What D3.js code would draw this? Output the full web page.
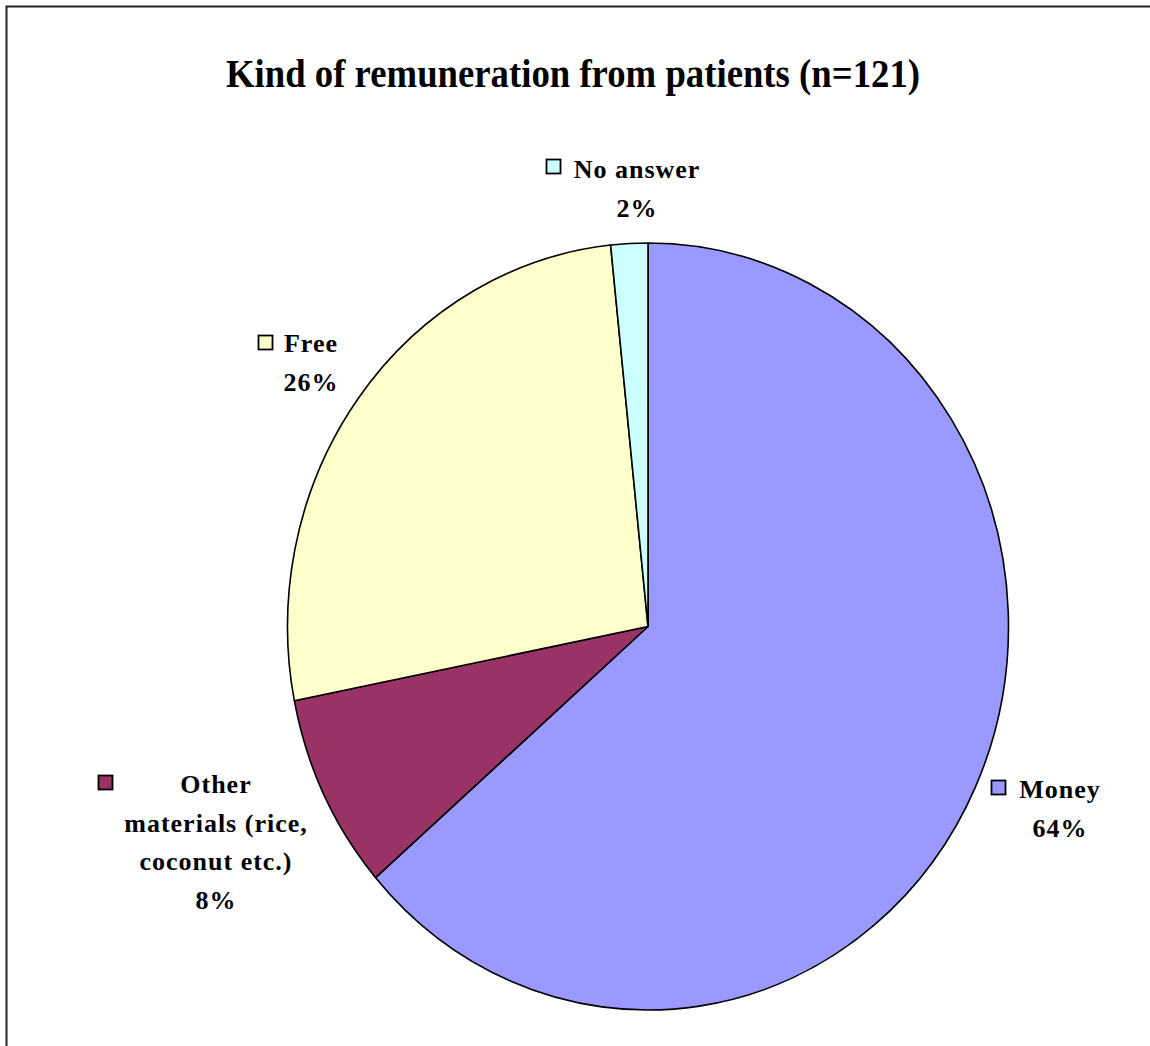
<!DOCTYPE html>
<html>
<head>
<meta charset="utf-8">
<script src="https://cdn.jsdelivr.net/npm/d3@7"></script>
<style>
  html, body { margin: 0; padding: 0; background: #fff; }
  svg { display: block; }
</style>
</head>
<body>
<svg id="chart" width="1150" height="1046"></svg>
<script>
// ---- data ----
const categories = ["Money", "Other materials (rice, coconut etc.)", "Free", "No answer"];
const counts = [77, 10, 32, 2];
const percentLabels = ["64%", "8%", "26%", "2%"];
const labelLines = [["Money"], ["Other", "materials (rice,", "coconut etc.)"], ["Free"], ["No answer"]];
const colors = ["#9999FF", "#993366", "#FFFFCC", "#CCFFFF"];
const title = "Kind of remuneration from patients (n=121)";

// ---- layout ----
const W = 1150, H = 1046;
const cx = 648, cy = 626.5, RX = 360.5, RY = 383.5;
const FONT = "'Liberation Serif', 'Times New Roman', Times, serif";
const labelLayout = [
  { x: 1060, y: 798, sqX: 991, sqY: 780 },
  { x: 216, y: 793, sqX: 98, sqY: 775 },
  { x: 311, y: 352, sqX: 258, sqY: 335 },
  { x: 637, y: 178, sqX: 546, sqY: 159 }
];
const lineH = 38.5;

const svg = d3.select("#chart");

svg.append("rect")
  .attr("x", 6.5).attr("y", 6.5)
  .attr("width", W + 10).attr("height", H + 10)
  .attr("fill", "none").attr("stroke", "#222").attr("stroke-width", 2);

svg.append("text")
  .attr("x", 573).attr("y", 87)
  .attr("text-anchor", "middle")
  .attr("font-family", FONT).attr("font-weight", "bold")
  .attr("font-size", 40)
  .attr("textLength", 694).attr("lengthAdjust", "spacingAndGlyphs")
  .text(title);

const pie = d3.pie().sort(null).value(d => d)
  .startAngle(0).endAngle(2 * Math.PI);
const arc = d3.arc().innerRadius(0).outerRadius(RX);
const arcs = pie(counts);

svg.append("g")
  .attr("transform", `translate(${cx},${cy}) scale(1,${RY / RX})`)
  .selectAll("path")
  .data(arcs)
  .join("path")
  .attr("d", arc)
  .attr("fill", (d, i) => colors[i])
  .attr("stroke", "#000")
  .attr("stroke-width", 1.6)
  .attr("vector-effect", "non-scaling-stroke")
  .attr("stroke-linejoin", "round");

labelLines.forEach((lines, i) => {
  const L = labelLayout[i];
  const g = svg.append("g");
  g.append("rect")
    .attr("x", L.sqX + 0.5).attr("y", L.sqY + 0.5)
    .attr("width", 14).attr("height", 14)
    .attr("fill", colors[i]).attr("stroke", "#000").attr("stroke-width", 1.8);
  const all = lines.concat([percentLabels[i]]);
  all.forEach((t, j) => {
    g.append("text")
      .attr("x", L.x)
      .attr("y", L.y + j * lineH)
      .attr("text-anchor", "middle")
      .attr("font-family", FONT).attr("font-weight", "bold")
      .attr("font-size", 26)
      .attr("letter-spacing", 1.0)
      .text(t);
  });
});
</script>
</body>
</html>
